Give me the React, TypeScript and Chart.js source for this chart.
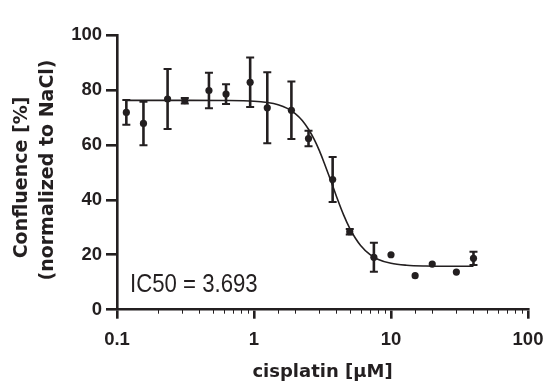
import React, { useEffect, useRef } from 'react';
import { Chart, registerables } from 'chart.js';

Chart.register(...registerables);

const INK = '#231f20';

// cisplatin concentrations [µM]
const concentrations = [0.117, 0.156, 0.234, 0.3125, 0.469, 0.625, 0.9375, 1.25, 1.875, 2.5, 3.75, 5, 7.5, 10, 15, 20, 30, 40];
// mean confluence [%]
const meanValues = [71.8, 67.8, 76.7, 76.1, 79.8, 78.5, 82.8, 73.5, 72.6, 62.3, 47.4, 28.4, 19.1, 20.0, 12.4, 16.6, 13.7, 18.7];
// error (± SD)
const errorValues = [4.5, 7.9, 10.9, 1.0, 6.5, 3.6, 9.0, 12.9, 10.5, 2.8, 8.2, 1.0, 5.3, 0, 0, 0, 0, 2.4];

// fitted dose-response curve
const fitX = [0.117, 0.3, 0.6, 1, 1.25, 1.5, 1.75, 2, 2.25, 2.5, 2.75, 3, 3.25, 3.5, 3.75, 4, 4.5, 5, 5.5, 6, 7, 8, 10, 13, 18, 25, 40];
const fitY = [76.2, 76.2, 76.15, 75.9, 75.4, 74.6, 73.3, 71.4, 68.9, 65.7, 62.0, 57.9, 53.5, 49.2, 45.1, 41.2, 34.6, 29.6, 26.0, 23.4, 20.1, 18.4, 16.9, 16.2, 15.9, 15.8, 15.8];

const xTickLabels = ['0.1', '1', '10', '100'];
const yTitleLines = ['Confluence [%]', '(normalized to NaCl)'];
const xTitle = 'cisplatin [µM]';
const annotationText = 'IC50 = 3.693';

function isDecade(v: number) {
  const l = Math.log10(v);
  return Math.abs(l - Math.round(l)) < 1e-6;
}

const overlayPlugin = {
  id: 'overlay',
  afterDatasetsDraw(chart: any) {
    const { ctx, scales } = chart;
    const x = scales.x;
    const y = scales.y;
    ctx.save();
    ctx.strokeStyle = INK;
    concentrations.forEach((c, i) => {
      const e = errorValues[i];
      if (!e) return;
      const px = x.getPixelForValue(c);
      const top = y.getPixelForValue(meanValues[i] + e);
      const bot = y.getPixelForValue(meanValues[i] - e);
      ctx.lineWidth = 2.6;
      ctx.beginPath();
      ctx.moveTo(px, top);
      ctx.lineTo(px, bot);
      ctx.stroke();
      ctx.lineWidth = 2;
      ctx.beginPath();
      ctx.moveTo(px - 4, top);
      ctx.lineTo(px + 4, top);
      ctx.moveTo(px - 4, bot);
      ctx.lineTo(px + 4, bot);
      ctx.stroke();
    });
    ctx.restore();
  },
  afterDraw(chart: any) {
    const { ctx, scales, chartArea } = chart;
    const x = scales.x;
    ctx.save();
    // minor ticks on log axis
    ctx.strokeStyle = INK;
    ctx.lineWidth = 1;
    x.ticks.forEach((t: any) => {
      if (isDecade(t.value)) return;
      const px = Math.round(x.getPixelForValue(t.value)) + 0.5;
      ctx.beginPath();
      ctx.moveTo(px, chartArea.bottom);
      ctx.lineTo(px, chartArea.bottom + 4);
      ctx.stroke();
    });

    ctx.fillStyle = INK;
    // x title
    ctx.font = 'bold 18px "DejaVu Sans"';
    ctx.textAlign = 'center';
    ctx.textBaseline = 'alphabetic';
    ctx.fillText(xTitle, (chartArea.left + chartArea.right) / 2, 376.5);

    // y title (two rotated lines)
    ctx.font = 'bold 19px "DejaVu Sans"';
    const yCenters = [177.5, 170];
    const baselines = [27, 53];
    yTitleLines.forEach((line, i) => {
      ctx.save();
      ctx.translate(baselines[i], yCenters[i]);
      ctx.rotate(-Math.PI / 2);
      ctx.fillText(line, 0, 0);
      ctx.restore();
    });

    // annotation
    ctx.save();
    ctx.translate(130, 291.5);
    ctx.scale(0.87, 1);
    ctx.font = '25.5px "Liberation Sans"';
    ctx.textAlign = 'left';
    ctx.fillText(annotationText, 0, 0);
    ctx.restore();

    ctx.restore();
  },
};

export default function App() {
  const ref = useRef<HTMLCanvasElement | null>(null);

  useEffect(() => {
    document.body.style.margin = '0';
    document.body.style.overflow = 'hidden';
    const canvas = ref.current;
    if (!canvas) return;

    const fitPoints = fitX.map((v, i) => ({ x: v, y: fitY[i] }));
    const dataPoints = concentrations.map((v, i) => ({ x: v, y: meanValues[i] }));

    const chart = new Chart(canvas, {
      type: 'scatter',
      data: {
        datasets: [
          {
            data: fitPoints,
            showLine: true,
            pointRadius: 0,
            borderColor: INK,
            borderWidth: 1.6,
            cubicInterpolationMode: 'monotone',
            fill: false,
          } as any,
          {
            data: dataPoints,
            pointRadius: 3.6,
            pointBackgroundColor: INK,
            pointBorderWidth: 0,
            backgroundColor: INK,
            borderColor: INK,
          },
        ],
      },
      options: {
        responsive: false,
        animation: false,
        devicePixelRatio: 1,
        layout: { padding: { top: 35, right: 31, left: 0, bottom: 0 } },
        plugins: {
          legend: { display: false },
          tooltip: { enabled: false },
        },
        scales: {
          x: {
            type: 'logarithmic',
            position: 'bottom',
            min: 0.1,
            max: 100,
            grid: {
              display: true,
              drawOnChartArea: false,
              drawTicks: true,
              tickLength: 9,
              lineWidth: 2.6,
              color: INK,
              tickColor: (c: any) => (c.tick && isDecade(c.tick.value) ? INK : 'rgba(0,0,0,0)'),
            },
            border: { display: true, color: INK, width: 2.6 },
            ticks: {
              autoSkip: false,
              maxRotation: 0,
              minRotation: 0,
              padding: 10,
              color: INK,
              font: { family: '"Liberation Sans", Arial', weight: 'bold', size: 18.5 },
              callback: (v: any) => {
                const n = Number(v);
                if (!isDecade(n)) return '';
                return xTickLabels[Math.round(Math.log10(n)) + 1] ?? '';
              },
            },
            afterFit: (s: any) => {
              s.height = 78.3;
            },
          },
          y: {
            type: 'linear',
            min: 0,
            max: 100,
            grid: {
              display: true,
              drawOnChartArea: false,
              drawTicks: true,
              tickLength: 11,
              lineWidth: 2.6,
              color: INK,
            },
            border: { display: true, color: INK, width: 2.6 },
            ticks: {
              stepSize: 20,
              padding: 4,
              color: INK,
              font: { family: '"Liberation Sans", Arial', weight: 'bold', size: 18.5 },
            },
            afterFit: (s: any) => {
              s.width = 117;
            },
          },
        },
      },
      plugins: [overlayPlugin],
    } as any);

    return () => chart.destroy();
  }, []);

  return (
    <canvas
      ref={ref}
      width={559}
      height={388}
      style={{ display: 'block', width: '559px', height: '388px' }}
    />
  );
}
